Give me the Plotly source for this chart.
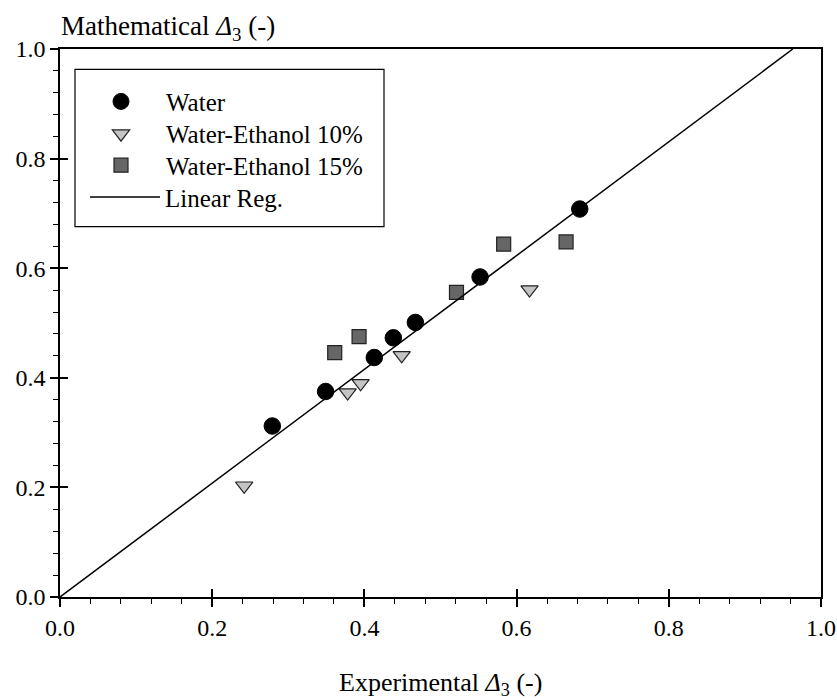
import plotly.graph_objects as go

# ---- data ----
water_x = [0.279, 0.349, 0.413, 0.438, 0.467, 0.552, 0.683]
water_y = [0.312, 0.375, 0.437, 0.473, 0.501, 0.584, 0.708]

eth10_x = [0.242, 0.378, 0.395, 0.449, 0.617]
eth10_y = [0.203, 0.373, 0.390, 0.441, 0.561]

eth15_x = [0.361, 0.393, 0.521, 0.583, 0.665]
eth15_y = [0.446, 0.475, 0.556, 0.644, 0.648]

reg_x = [0.0, 0.963]
reg_y = [0.0, 1.0]

tick_vals = [0.0, 0.2, 0.4, 0.6, 0.8, 1.0]
tick_text = ["0.0", "0.2", "0.4", "0.6", "0.8", "1.0"]

FONT = "Liberation Serif"
PLOT_L, PLOT_R, PLOT_T, PLOT_B = 60, 821, 49, 597.5
PW, PH = PLOT_R - PLOT_L, PLOT_B - PLOT_T


def px_x(px):
    return (px - PLOT_L) / PW


def px_y(py):
    return (PLOT_B - py) / PH


fig = go.Figure()
fig.add_trace(go.Scatter(
    x=water_x, y=water_y, mode="markers", name="Water", legend="legend",
    marker=dict(symbol="circle", size=16.5, color="black",
                line=dict(color="black", width=1)),
))
fig.add_trace(go.Scatter(
    x=eth10_x, y=eth10_y, mode="markers", name="Water-Ethanol 10%",
    legend="legend2",
    marker=dict(symbol="triangle-down", size=15, color="#c4c4c4",
                line=dict(color="#222222", width=1.2)),
))
fig.add_trace(go.Scatter(
    x=eth15_x, y=eth15_y, mode="markers", name="Water-Ethanol 15%",
    legend="legend3",
    marker=dict(symbol="square", size=14, color="#666666",
                line=dict(color="#222222", width=1.2)),
))
fig.add_trace(go.Scatter(
    x=reg_x, y=reg_y, mode="lines", name="Linear Reg.", legend="legend4",
    line=dict(color="black", width=1.5),
))
# invisible trace on overlay axes (for inner halves of major ticks)
fig.add_trace(go.Scatter(x=[0.5], y=[0.5], xaxis="x2", yaxis="y2",
                         mode="markers", marker=dict(opacity=0),
                         showlegend=False, hoverinfo="skip"))

axis_common = dict(
    range=[0, 1], showgrid=False, zeroline=False, automargin=False,
    showline=True, linecolor="black", linewidth=1.5,
    tickmode="array", tickvals=tick_vals, ticktext=tick_text,
    ticks="outside", ticklen=8, tickwidth=1.5, tickcolor="black",
    tickfont=dict(family=FONT, size=24, color="black"),
    ticklabeloverflow="allow",
    minor=dict(ticks="outside", ticklen=5, tickwidth=1.2,
               tickcolor="black", dtick=0.04, tick0=0),
    mirror=True,
)
overlay_common = dict(
    range=[0, 1], showgrid=False, zeroline=False, showline=False,
    automargin=False, tickmode="array", tickvals=tick_vals,
    showticklabels=False, ticks="inside", ticklen=8, tickwidth=1.5,
    tickcolor="black",
)


def legend_at(row_center_py, left_px, itemwidth=80):
    return dict(
        x=px_x(left_px), y=px_y(row_center_py), xanchor="left",
        yanchor="middle", bgcolor="rgba(0,0,0,0)", borderwidth=0,
        font=dict(family=FONT, size=25, color="black"),
        itemwidth=itemwidth,
    )


fig.update_layout(
    template="none",
    width=837, height=699,
    margin=dict(l=PLOT_L, r=837 - PLOT_R, t=PLOT_T, b=699 - PLOT_B,
                autoexpand=False),
    paper_bgcolor="white", plot_bgcolor="white",
    font=dict(family=FONT, size=24, color="black"),
    xaxis=dict(**axis_common),
    yaxis=dict(**axis_common),
    xaxis2=dict(overlaying="x", anchor="y", side="bottom", **overlay_common),
    yaxis2=dict(overlaying="y", anchor="x", side="left", **overlay_common),
    showlegend=True,
    legend=legend_at(101.7, 76),
    legend2=legend_at(134, 76),
    legend3=legend_at(165.5, 76),
    legend4=legend_at(197.3, 85, itemwidth=70),
    shapes=[dict(type="rect", xref="paper", yref="paper",
                 x0=px_x(75), x1=px_x(384), y0=px_y(226.7), y1=px_y(69.3),
                 line=dict(color="black", width=1.2),
                 fillcolor="rgba(0,0,0,0)")],
    annotations=[
        dict(text="Mathematical <i>Δ</i><sub>3</sub> (-)", xref="paper", yref="paper",
             x=0.0, y=1.0, xanchor="left", yanchor="bottom", yshift=2, xshift=-1,
             showarrow=False, font=dict(family=FONT, size=27, color="black")),
        dict(text="Experimental <i>Δ</i><sub>3</sub> (-)", xref="paper", yref="paper",
             x=0.5, y=0.0, xanchor="center", yanchor="middle", yshift=-87,
             showarrow=False, font=dict(family=FONT, size=26, color="black")),
    ],
)

fig.write_html("out.html")
